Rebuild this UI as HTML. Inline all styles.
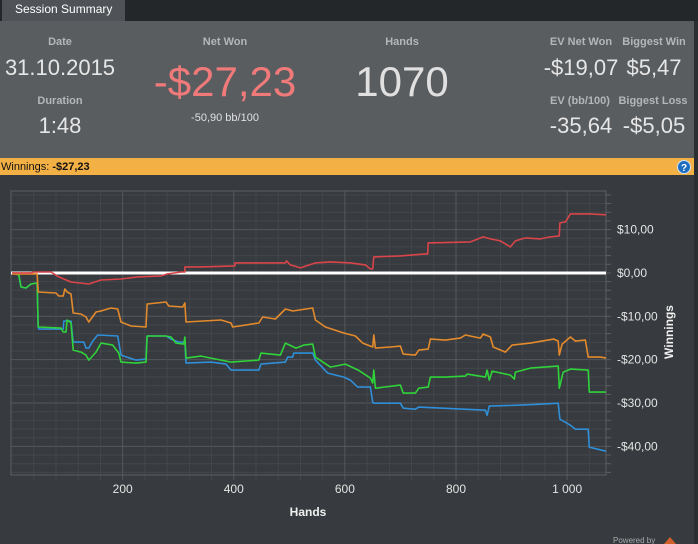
<!DOCTYPE html>
<html><head><meta charset="utf-8"><style>
html,body{margin:0;padding:0;background:#373a3e;width:698px;height:544px;overflow:hidden;font-family:"Liberation Sans",sans-serif}
svg text{font-family:"Liberation Sans",sans-serif}
</style></head><body>
<svg id="c" width="698" height="544" viewBox="0 0 698 544" xmlns="http://www.w3.org/2000/svg">
<rect x="0" y="0" width="698" height="544" fill="#373a3e"/>
<rect x="0" y="0" width="698" height="21" fill="#24272a"/>
<g>
<rect x="2" y="0" width="123" height="21" fill="#4f5357"/>
<text x="15" y="13" font-size="12" fill="#ffffff">Session Summary</text></g>
<rect x="0" y="21" width="694" height="137" fill="#5a5d60"/>
<rect x="694" y="21" width="4" height="523" fill="#2c2f32"/>
<g font-weight="bold" font-size="11" fill="#b4b6b8" text-anchor="middle">
<text x="60" y="45">Date</text>
<text x="60" y="104">Duration</text>
<text x="225" y="45">Net Won</text>
<text x="402" y="45">Hands</text>
<text x="581" y="45">EV Net Won</text>
<text x="654" y="45">Biggest Win</text>
<text x="580" y="104">EV (bb/100)</text>
<text x="653" y="104">Biggest Loss</text>
</g>
<g font-size="22" fill="#e6e6e6" text-anchor="middle">
<text x="60" y="75">31.10.2015</text>
<text x="60" y="133">1:48</text>
<text x="581" y="75">-$19,07</text>
<text x="654" y="75">$5,47</text>
<text x="581" y="133">-35,64</text>
<text x="654" y="133">-$5,05</text>
</g>
<text x="225" y="96" font-size="42" fill="#f07a7a" text-anchor="middle">-$27,23</text>
<text x="225" y="121" font-size="11" fill="#e0e0e0" text-anchor="middle">-50,90 bb/100</text>
<text x="402" y="96" font-size="42" fill="#e0e0e0" text-anchor="middle">1070</text>
<rect x="0" y="158" width="694" height="17" fill="#f3b045"/>
<text x="1" y="170" font-size="11" fill="#111">Winnings:  <tspan font-weight="bold">-$27,23</tspan></text>
<g>
<circle cx="684" cy="167" r="6.5" fill="#1e6fc0" stroke="#cfe0f5" stroke-width="1"/>
<text x="684" y="171" font-size="10" font-weight="bold" fill="#fff" text-anchor="middle">?</text></g>
<g id="grid"></g>
<g id="series"></g>
<g id="axes"></g>
<text x="308" y="516" font-size="12" font-weight="bold" fill="#f0f0f0" text-anchor="middle">Hands</text>
<text x="0" y="0" font-size="12" font-weight="bold" fill="#f0f0f0" text-anchor="middle" transform="translate(673,332) rotate(-90)">Winnings</text>
<text x="613" y="543" font-size="8" fill="#aaa">Powered by</text>
<polygon points="664,544 670,537 676,544" fill="#d0602a"/>
</svg>
<script>
const xTicks = [200, 400, 600, 800, 1000];
const xTickLabels = ["200", "400", "600", "800", "1 000"];
const yTicks = [10, 0, -10, -20, -30, -40];
const yTickLabels = ["$10,00", "$0,00", "-$10,00", "-$20,00", "-$30,00", "-$40,00"];
const redHands = [1,35,40,71,85,107,139,161,197,227,269,281,305,312,312,341,402,402,440,493,495,502,520,547,574,610,637,646,650,652,700,745,749,750,826,849,862,880,889,898,907,925,952,970,986,987,997,1006,1042,1070];
const redValues = [0,0,0.23,0.23,-0.92,-2.08,-2.54,-1.62,-1.39,-0.92,-0.69,-0.23,0.23,0.23,1.39,1.39,1.62,2.31,2.31,2.31,2.77,1.85,1.16,2.31,2.54,2.31,1.85,0.92,0.92,3.70,3.93,4.39,4.39,6.93,7.16,8.32,7.85,7.39,6.70,6.01,7.39,8.09,7.85,8.32,8.55,11.55,11.78,13.63,13.63,13.40];
const orangeHands = [1,46,48,80,85,93,96,100,107,111,125,134,139,152,161,179,191,197,215,242,244,278,283,308,312,314,377,395,398,445,452,475,493,506,530,542,547,565,598,619,632,650,652,655,682,700,705,727,733,750,754,781,808,817,844,849,862,867,889,901,934,976,984,986,991,1006,1015,1033,1038,1060,1070];
const orangeValues = [-0.23,-0.23,-4.39,-4.62,-5.31,-5.31,-3.70,-4.39,-4.85,-9.24,-9.47,-10.16,-11.32,-9.01,-8.78,-8.09,-8.32,-11.32,-12.24,-12.47,-7.16,-6.70,-7.62,-7.85,-6.93,-11.32,-10.86,-11.55,-12.47,-11.55,-10.16,-10.63,-8.32,-8.78,-8.32,-8.09,-10.86,-12.47,-13.86,-14.55,-16.17,-17.09,-14.32,-17.33,-17.09,-16.86,-18.71,-18.94,-17.79,-17.56,-15.25,-15.48,-15.02,-14.32,-15.02,-14.09,-14.78,-17.09,-18.25,-16.63,-16.17,-15.25,-15.71,-18.94,-16.40,-14.78,-15.71,-15.48,-19.40,-19.40,-19.64];
const greenHands = [1,13,17,26,35,46,48,89,93,98,100,107,111,125,134,139,152,161,182,193,197,224,242,244,278,287,296,310,312,314,341,395,445,449,484,493,512,526,542,547,574,601,624,646,650,652,655,700,705,727,733,750,754,781,817,820,853,856,860,865,898,905,907,934,984,986,993,1006,1038,1040,1070];
const greenValues = [0,-0.46,-3.23,-3.47,-2.54,-2.31,-12.47,-12.71,-13.63,-13.63,-10.86,-11.55,-17.79,-18.25,-18.94,-20.10,-18.25,-16.17,-16.63,-18.48,-20.56,-20.79,-20.56,-14.55,-14.55,-14.78,-16.17,-16.40,-14.78,-19.64,-19.17,-20.56,-20.10,-18.48,-18.94,-16.17,-17.33,-16.63,-16.40,-19.40,-21.71,-21.02,-22.41,-24.26,-25.41,-22.41,-26.57,-25.87,-27.72,-27.72,-26.57,-26.33,-24.02,-24.02,-23.79,-23.33,-24.02,-22.41,-24.72,-22.64,-23.56,-24.49,-22.87,-21.94,-21.48,-26.57,-22.87,-22.18,-22.41,-27.49,-27.49];
const blueHands = [1,13,17,26,35,46,48,49,93,94,107,111,130,134,139,146,155,191,197,224,242,244,278,287,301,312,314,359,386,395,445,449,493,497,506,508,542,547,569,598,610,623,646,650,652,700,705,727,733,853,856,860,916,952,984,987,1006,1015,1038,1040,1070];
const blueValues = [0,-0.46,-3.23,-3.47,-2.54,-2.31,-12.47,-12.94,-12.94,-11.09,-11.09,-15.94,-15.94,-17.33,-17.33,-15.71,-14.32,-14.55,-18.94,-20.10,-19.87,-14.55,-14.55,-15.25,-15.94,-15.94,-20.79,-20.56,-21.02,-22.41,-22.41,-21.02,-20.56,-19.40,-19.40,-18.48,-18.48,-20.10,-23.10,-24.02,-24.72,-26.33,-26.33,-29.80,-30.03,-30.03,-31.19,-31.42,-30.95,-31.65,-32.80,-30.72,-30.49,-30.26,-30.03,-33.73,-35.11,-36.04,-36.04,-40.19,-41.12];

const NS = "http://www.w3.org/2000/svg";
const PL = 11, PR = 606, PT = 191, PB = 475;
const X_MIN = -1, X_MAX = 1070, Y_MIN = -46.6, Y_MAX = 18.9;
function xs(h){ return PL + (h - X_MIN) / (X_MAX - X_MIN) * (PR - PL); }
function ys(v){ return PT + (Y_MAX - v) / (Y_MAX - Y_MIN) * (PB - PT); }
function mk(tag, attrs, parent){ const e = document.createElementNS(NS, tag); for (const k in attrs) e.setAttribute(k, attrs[k]); parent.appendChild(e); return e; }
const grid = document.getElementById('grid'), series = document.getElementById('series'), axes = document.getElementById('axes');

for (let v = -46; v <= 18; v += 2) {
  const major = v % 10 === 0;
  const l = mk('line', {x1: PL, x2: PR, y1: ys(v), y2: ys(v), stroke: major ? '#55585c' : '#43464a', 'stroke-width': 1}, grid);
  
  
}
for (let h = 40; h < 1070; h += 40) {
  const major = h % 200 === 0;
  const l = mk('line', {x1: xs(h), x2: xs(h), y1: PT, y2: PB + 5, stroke: major ? '#55585c' : '#43464a', 'stroke-width': 1}, grid);
  
  
}
const frame = mk('rect', {x: PL, y: PT, width: PR - PL, height: PB - PT, fill: 'none', stroke: '#5c5f63', 'stroke-width': 1}, grid);


for (let v = -46; v <= 18; v += 2) {
  const t = mk('line', {x1: PR, x2: PR + 5, y1: ys(v), y2: ys(v), stroke: '#5c5f63'}, grid);
  
  
}

const zl = mk('line', {x1: PL, x2: PR, y1: ys(0), y2: ys(0), stroke: '#ffffff', 'stroke-width': 3}, series);



function drawSeries(hands, vals, color, name){
  const pts = hands.map((h, i) => xs(h).toFixed(1) + ',' + ys(vals[i]).toFixed(1)).join(' ');
  const p = mk('polyline', {points: pts, fill: 'none', stroke: color, 'stroke-width': 1.6, 'stroke-linejoin': 'round'}, series);
  
  
}
drawSeries(blueHands, blueValues, '#2f8fd8', 'all-in-ev-line');
drawSeries(greenHands, greenValues, '#2fd33a', 'showdown-line');
drawSeries(orangeHands, orangeValues, '#e38a2c', 'non-showdown-line');
drawSeries(redHands, redValues, '#d9454a', 'net-won-line');

xTicks.forEach((h, i) => {
  const t = mk('text', {x: xs(h), y: 493, 'font-size': 12, fill: '#e4e4e4', 'text-anchor': 'middle'}, axes);
  t.textContent = xTickLabels[i];
  
  
});
yTicks.forEach((v, i) => {
  const t = mk('text', {x: 617, y: ys(v) + 4, 'font-size': 12, fill: '#e4e4e4'}, axes);
  t.textContent = yTickLabels[i];
  
  
});
</script>
</body></html>
